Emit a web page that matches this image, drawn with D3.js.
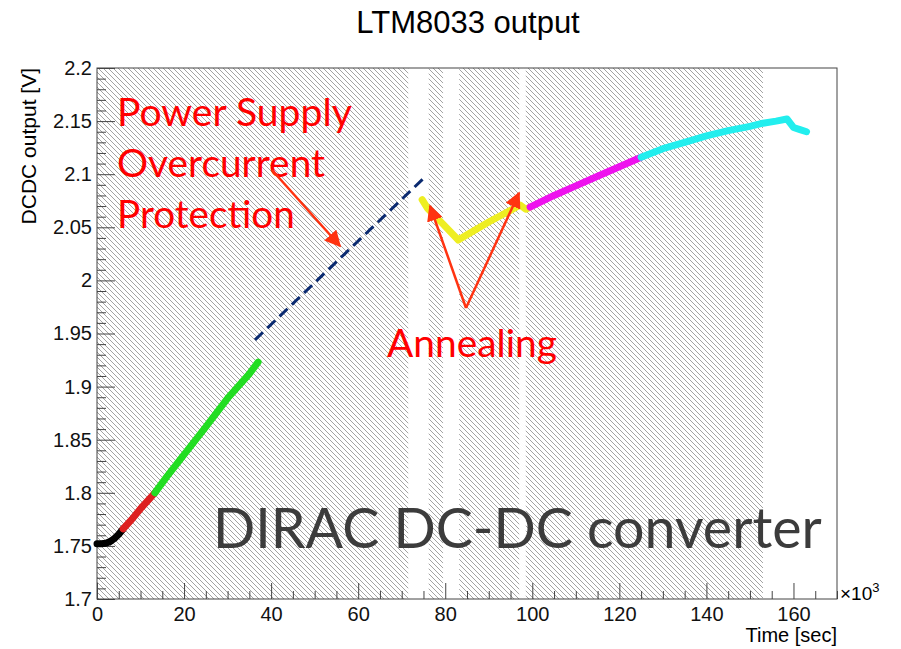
<!DOCTYPE html>
<html>
<head>
<meta charset="utf-8">
<script src="https://cdn.jsdelivr.net/npm/d3@7"></script>
<style>
  body { margin: 0; background: #fff; }
  svg { display: block; }
</style>
</head>
<body>
<div id="chart"></div>
<script>
const width = 901;
const height = 649;

// ---------------------------
// Data (time in 10^3 sec, DCDC output in V)
// ---------------------------
const blackT = [0, 1, 2, 3, 4, 5, 6];
const blackV = [1.752, 1.752, 1.7525, 1.754, 1.757, 1.761, 1.766];

const redT = [6, 8, 10, 12, 13.3];
const redV = [1.766, 1.775, 1.785, 1.794, 1.800];

const greenT = [13.3, 16, 20, 25, 30, 35, 37];
const greenV = [1.800, 1.815, 1.836, 1.862, 1.889, 1.912, 1.923];

const dashT = [36.3, 75];
const dashV = [1.944, 2.096];

const yellowT = [74.7, 75.9, 79.5, 83, 85, 90, 95, 97.2, 98.5, 99.5];
const yellowV = [2.076, 2.068, 2.053, 2.038, 2.043, 2.055, 2.066, 2.071, 2.067, 2.069];

const magentaT = [99.5, 105, 110, 115, 120, 125];
const magentaV = [2.069, 2.080, 2.089, 2.098, 2.107, 2.116];

const cyanT = [125, 130, 135, 140, 145, 150, 153, 156, 158.5, 160, 161.5, 163];
const cyanV = [2.116, 2.124, 2.130, 2.136, 2.141, 2.145, 2.148, 2.150, 2.152, 2.144, 2.142, 2.140];

// hatched (beam on) intervals
const hatchStart = [0, 76.2, 83.2, 98.5];
const hatchEnd = [71.5, 79.5, 97.0, 153];

const xTicks = [0, 20, 40, 60, 80, 100, 120, 140, 160];
const yTicks = [1.7, 1.75, 1.8, 1.85, 1.9, 1.95, 2, 2.05, 2.1, 2.15, 2.2];

// ---------------------------
// Scales
// ---------------------------
const x = d3.scaleLinear().domain([0, 170]).range([97, 837]);
const y = d3.scaleLinear().domain([1.7, 2.2]).range([599, 68]);

const svg = d3.select("#chart")
  .append("svg")
  .attr("width", width)
  .attr("height", height);

const defs = svg.append("defs");
defs.append("pattern")
  .attr("id", "hatch")
  .attr("patternUnits", "userSpaceOnUse")
  .attr("width", 5)
  .attr("height", 5)
  .append("path")
  .attr("d", "M0,0L5,5M-1,4L1,6M4,-1L6,1")
  .attr("stroke", "#999")
  .attr("stroke-width", 0.9);

defs.append("marker")
  .attr("id", "arrow")
  .attr("viewBox", "0 0 10 10")
  .attr("refX", 9)
  .attr("refY", 5)
  .attr("markerWidth", 6.5)
  .attr("markerHeight", 6.5)
  .attr("orient", "auto")
  .append("path")
  .attr("d", "M0,0L10,5L0,10z")
  .attr("fill", "#ff3311");

// ---------------------------
// Hatched regions
// ---------------------------
svg.append("g")
  .selectAll("rect")
  .data(hatchStart.map((s, i) => [s, hatchEnd[i]]))
  .join("rect")
  .attr("x", d => x(d[0]))
  .attr("width", d => x(d[1]) - x(d[0]))
  .attr("y", y(2.2))
  .attr("height", y(1.7) - y(2.2))
  .attr("fill", "url(#hatch)");

// ---------------------------
// Axes
// ---------------------------
const axisColor = "#444";

const xMinor = d3.range(0, 171, 5).filter(v => v % 20 !== 0);
const yMinor = d3.range(170, 221, 1).map(v => v / 100).filter(v => Math.round(v * 100) % 5 !== 0);

svg.append("g")
  .attr("transform", `translate(0,${y(1.7)})`)
  .call(d3.axisBottom(x).tickValues(xMinor).tickSize(-8).tickFormat(""))
  .call(g => g.select(".domain").remove());

svg.append("g")
  .attr("transform", `translate(${x(0)},0)`)
  .call(d3.axisLeft(y).tickValues(yMinor).tickSize(-9).tickFormat(""))
  .call(g => g.select(".domain").remove());

const xAxis = svg.append("g")
  .attr("transform", `translate(0,${y(1.7)})`)
  .call(d3.axisBottom(x).tickValues(xTicks).tickSizeInner(-16).tickSizeOuter(0))
  .call(g => g.select(".domain").remove());

const yAxis = svg.append("g")
  .attr("transform", `translate(${x(0)},0)`)
  .call(d3.axisLeft(y).tickValues(yTicks).tickSizeInner(-18).tickSizeOuter(0)
    .tickPadding(5).tickFormat(d => String(+d.toFixed(2))))
  .call(g => g.select(".domain").remove());

svg.selectAll(".tick line").attr("stroke", axisColor);
[xAxis, yAxis].forEach(a => a.selectAll("text")
  .attr("font-family", "Liberation Sans, Arial, sans-serif")
  .attr("font-size", 20)
  .attr("fill", "#111"));
xAxis.selectAll("text").attr("y", 22).attr("dy", 0);

// frame
svg.append("rect")
  .attr("x", x(0))
  .attr("y", y(2.2))
  .attr("width", x(170) - x(0))
  .attr("height", y(1.7) - y(2.2))
  .attr("fill", "none")
  .attr("stroke", axisColor)
  .attr("stroke-width", 1);

// ---------------------------
// Data curves
// ---------------------------
const series = [
  { t: blackT, v: blackV, color: "#000000" },
  { t: redT, v: redV, color: "#dd2020" },
  { t: greenT, v: greenV, color: "#22dd22" },
  { t: yellowT, v: yellowV, color: "#eeee22" },
  { t: magentaT, v: magentaV, color: "#ee11ee" },
  { t: cyanT, v: cyanV, color: "#22eeee" }
];

svg.append("g")
  .selectAll("path")
  .data(series)
  .join("path")
  .attr("d", s => d3.line().x(d => x(d[0])).y(d => y(d[1]))(s.t.map((t, i) => [t, s.v[i]])))
  .attr("fill", "none")
  .attr("stroke", s => s.color)
  .attr("stroke-width", 7)
  .attr("stroke-linecap", "round")
  .attr("stroke-linejoin", "round");

svg.append("path")
  .attr("d", d3.line().x(d => x(d[0])).y(d => y(d[1]))(dashT.map((t, i) => [t, dashV[i]])))
  .attr("stroke", "#0a2a70")
  .attr("stroke-width", 3)
  .attr("stroke-dasharray", "11,6");

// ---------------------------
// Titles
// ---------------------------
svg.append("text")
  .attr("x", 468)
  .attr("y", 33)
  .attr("text-anchor", "middle")
  .attr("font-family", "Liberation Sans, Arial, sans-serif")
  .attr("font-size", 31)
  .text("LTM8033 output");

svg.append("text")
  .attr("transform", `translate(36,${y(2.2)}) rotate(-90)`)
  .attr("text-anchor", "end")
  .attr("font-family", "Liberation Sans, Arial, sans-serif")
  .attr("font-size", 21)
  .text("DCDC output [V]");

svg.append("text")
  .attr("x", x(170))
  .attr("y", 642)
  .attr("text-anchor", "end")
  .attr("font-family", "Liberation Sans, Arial, sans-serif")
  .attr("font-size", 20)
  .text("Time [sec]");

const mult = svg.append("text")
  .attr("x", 840)
  .attr("y", 600)
  .attr("font-family", "Liberation Sans, Arial, sans-serif")
  .attr("font-size", 19)
  .text("\u00d710");
mult.append("tspan")
  .attr("dy", -8)
  .attr("font-size", 13)
  .text("3");

// ---------------------------
// Annotations
// ---------------------------
function fit(sel, w) {
  const fs = +sel.attr("font-size");
  const len = sel.node().getComputedTextLength();
  sel.attr("font-size", fs * w / len);
}

const notes = [
  { text: "Power Supply", x: 117, y: 126, w: 235 },
  { text: "Overcurrent", x: 117, y: 177, w: 208 },
  { text: "Protection", x: 117, y: 228, w: 178 },
  { text: "Annealing", x: 387, y: 357, w: 170 }
];

notes.forEach(n => {
  const t = svg.append("text")
    .attr("x", n.x)
    .attr("y", n.y)
    .attr("font-family", "Lato, sans-serif")
    .attr("font-size", 38)
    .attr("fill", "#ff0000")
    .text(n.text);
  fit(t, n.w);
});

const dirac = svg.append("text")
  .attr("x", 213)
  .attr("y", 548)
  .attr("font-family", "Lato, sans-serif")
  .attr("font-size", 64)
  .attr("fill", "#3c3c3c")
  .text("DIRAC DC-DC converter");
fit(dirac, 609);

const arrows = [
  [272, 170, 340, 246],
  [466, 308, 430, 206],
  [466, 308, 519, 193]
];

svg.append("g")
  .selectAll("line")
  .data(arrows)
  .join("line")
  .attr("x1", d => d[0])
  .attr("y1", d => d[1])
  .attr("x2", d => d[2])
  .attr("y2", d => d[3])
  .attr("stroke", "#ff3311")
  .attr("stroke-width", 2.5)
  .attr("marker-end", "url(#arrow)");
</script>
</body>
</html>
